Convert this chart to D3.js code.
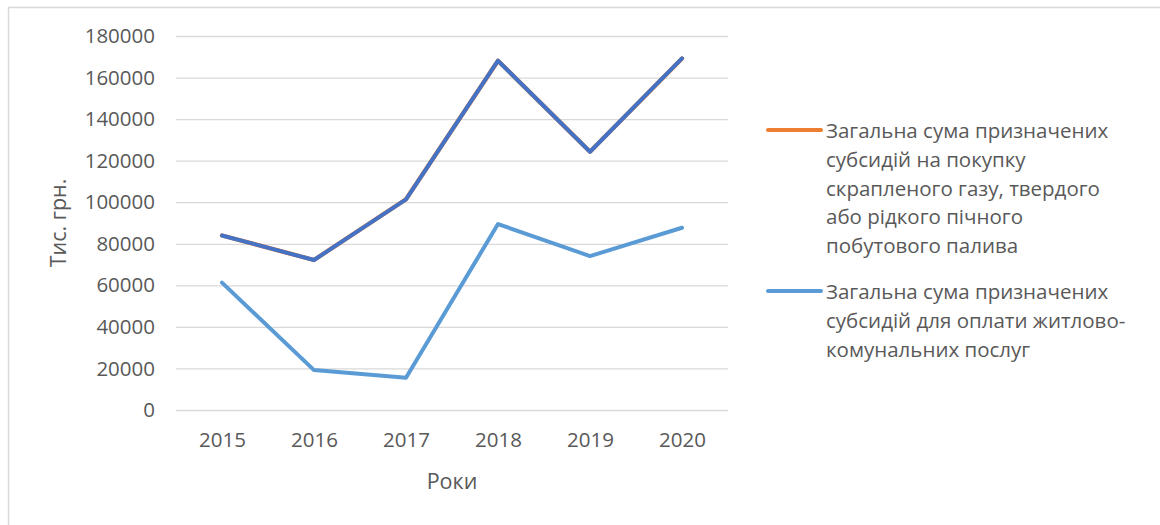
<!DOCTYPE html>
<html>
<head>
<meta charset="utf-8">
<script src="https://cdnjs.cloudflare.com/ajax/libs/d3/7.8.5/d3.min.js"></script>
<style>
  body { margin: 0; background: #fff; }
  svg text { font-family: "Open Sans", sans-serif; fill: #595959; }
</style>
</head>
<body>
<div id="chart"></div>
<script>
// data
var years = ["2015", "2016", "2017", "2018", "2019", "2020"];
var gasValues = [84000, 72200, 101400, 168100, 124300, 169200];      // orange, hidden under dark line
var totalValues = [84000, 72200, 101400, 168100, 124300, 169200];    // dark blue line drawn over it
var housingValues = [61300, 19200, 15500, 89500, 74100, 87700];
var yTicks = [0, 20000, 40000, 60000, 80000, 100000, 120000, 140000, 160000, 180000];
var legendGas = ["Загальна сума призначених", "субсидій на покупку", "скрапленого газу, твердого", "або рідкого пічного", "побутового палива"];
var legendHousing = ["Загальна сума призначених", "субсидій для оплати житлово-", "комунальних послуг"];

var width = 1160, height = 525;
var plot = {left: 176, right: 728, top: 36, bottom: 410};

var svg = d3.select("#chart").append("svg")
    .attr("width", width)
    .attr("height", height)

// outer frame (runs off the right/bottom edge like the screenshot)
svg.append("rect")
    .attr("x", 8.5).attr("y", 7.5)
    .attr("width", 1300).attr("height", 700)
    .attr("fill", "none")
    .attr("stroke", "#d9d9d9")
    .attr("stroke-width", 1.5)

var x = d3.scalePoint()
    .domain(years)
    .range([plot.left, plot.right])
    .padding(0.5)

var y = d3.scaleLinear()
    .domain([0, 180000])
    .range([plot.bottom, plot.top])

// gridlines
svg.append("g")
    .attr("transform", "translate(" + plot.left + ",0)")
    .call(d3.axisLeft(y).tickValues(yTicks).tickSize(-(plot.right - plot.left)).tickFormat(""))
    .call(function(g){
        g.select(".domain").remove();
        g.selectAll("line").attr("stroke", "#d9d9d9").attr("stroke-width", 1.3);
    })

// y tick labels
svg.append("g")
    .attr("transform", "translate(" + plot.left + ",0)")
    .call(d3.axisLeft(y).tickValues(yTicks).tickSize(0).tickPadding(21).tickFormat(d3.format("d")))
    .call(function(g){
        g.select(".domain").remove();
        g.selectAll("text").style("font-size", "20.5px").attr("fill", "#595959");
    })

// x tick labels
svg.append("g")
    .attr("transform", "translate(0," + plot.bottom + ")")
    .call(d3.axisBottom(x).tickSize(0).tickPadding(22))
    .call(function(g){
        g.select(".domain").remove();
        g.selectAll("text").style("font-size", "20.5px").attr("fill", "#595959");
    })

// axis titles
svg.append("text")
    .attr("transform", "translate(66," + ((plot.top + plot.bottom) / 2) + ") rotate(-90)")
    .attr("text-anchor", "middle")
    .style("font-size", "21.5px")
    .text("Тис. грн.")

svg.append("text")
    .attr("x", (plot.left + plot.right) / 2)
    .attr("y", 489)
    .attr("text-anchor", "middle")
    .style("font-size", "21.5px")
    .text("Роки")

var line = d3.line()
    .x(function(d, i){ return x(years[i]); })
    .y(function(d){ return y(d); })

var series = [
    {values: housingValues, color: "#5b9bd5", w: 4},
    {values: gasValues, color: "#ed7d31", w: 4.3},
    {values: totalValues, color: "#4472c4", w: 4}
];

svg.selectAll(".series")
    .data(series).enter().append("path")
    .attr("class", "series")
    .attr("d", function(d){ return line(d.values); })
    .attr("fill", "none")
    .attr("stroke", function(d){ return d.color; })
    .attr("stroke-width", function(d){ return d.w; })
    .attr("stroke-linejoin", "round")
    .attr("stroke-linecap", "round")

// legend
var legendItems = [
    {lines: legendGas, color: "#ed7d31", top: 131},
    {lines: legendHousing, color: "#5b9bd5", top: 292}
];

var lg = svg.selectAll(".legend")
    .data(legendItems).enter().append("g")
    .attr("class", "legend")
    .attr("transform", function(d){ return "translate(0," + d.top + ")"; })

lg.append("line")
    .attr("x1", 768).attr("x2", 821)
    .attr("y1", -1).attr("y2", -1)
    .attr("stroke", function(d){ return d.color; })
    .attr("stroke-width", 4)
    .attr("stroke-linecap", "round")

lg.selectAll("text")
    .data(function(d){ return d.lines; }).enter().append("text")
    .attr("x", 826)
    .attr("y", function(d, i){ return i * 28.7; })
    .attr("dy", "0.35em")
    .style("font-size", "20.5px")
    .text(function(d){ return d; })
</script>
</body>
</html>
